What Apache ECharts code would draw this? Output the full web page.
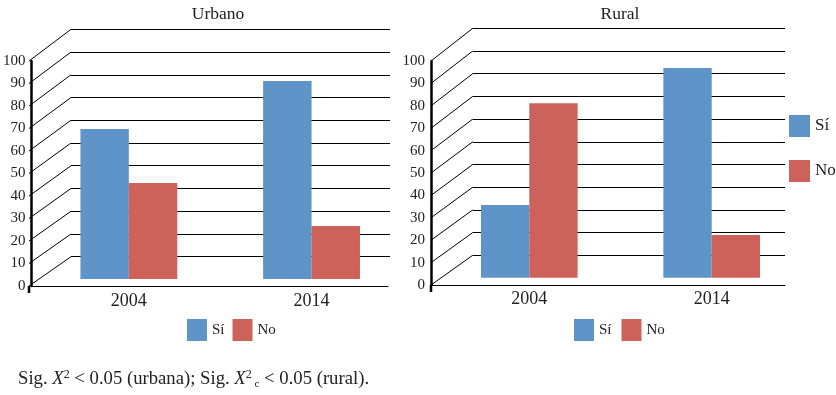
<!DOCTYPE html>
<html>
<head>
<meta charset="utf-8">
<script src="https://cdn.jsdelivr.net/npm/echarts@6/dist/echarts.min.js"></script>
<style>
  html, body { margin: 0; padding: 0; background: #fff; }
  #main { width: 836px; height: 395px; }
</style>
</head>
<body>
<div id="main"></div>
<script>
// datos (%)
var years = ['2004', '2014'];
var urbanoSi = [66.7, 88.0];
var urbanoNo = [42.7, 23.6];
var ruralSi = [32.5, 93.6];
var ruralNo = [77.9, 19.1];
var yTicks = [0, 10, 20, 30, 40, 50, 60, 70, 80, 90, 100];

var FONT = 'Liberation Serif';
var BLUE = '#5F94C9';
var RED = '#CD625A';

var chart = echarts.init(document.getElementById('main'));

// back wall, front axis, bars  (x3 per panel)
var grids = [
  {left: 71, top: 29.3, width: 319, height: 227.4},
  {left: 29, top: 61, width: 359, height: 225},
  {left: 37.5, top: 54, width: 365.4, height: 225},
  {left: 472.7, top: 28.3, width: 312.3, height: 227},
  {left: 431, top: 61, width: 354, height: 224},
  {left: 438.1, top: 53.7, width: 364.8, height: 224}
];

var xAxes = [], yAxes = [];
grids.forEach(function (g, i) {
  var kind = i % 3;
  xAxes.push({
    gridIndex: i,
    type: 'category',
    data: years,
    axisLine: {show: kind === 1, lineStyle: {color: '#000', width: 1}},
    axisTick: {show: false},
    axisLabel: {
      show: kind === 2, margin: 13,
      fontFamily: FONT, fontSize: 18, color: '#222'
    },
    splitLine: {show: false}
  });
  yAxes.push({
    gridIndex: i,
    type: 'value',
    min: 0, max: 100, interval: 10,
    axisLine: {show: kind === 1, lineStyle: {color: '#000', width: 2.5}},
    axisTick: {show: false},
    axisLabel: {
      show: kind === 1, margin: 6,
      fontFamily: FONT, fontSize: 15, color: '#222'
    },
    splitLine: {show: kind === 0, lineStyle: {color: '#000', width: 1}}
  });
});

function bar(name, data, idx, color) {
  return {
    name: name, type: 'bar', data: data,
    xAxisIndex: idx, yAxisIndex: idx,
    barGap: 0, barCategoryGap: '47%',
    itemStyle: {color: color},
    emphasis: {disabled: true}
  };
}

chart.setOption({
  animation: false,
  title: [
    {text: 'Urbano', left: 213, top: 0, textAlign: 'center',
     textStyle: {fontFamily: FONT, fontSize: 17.5, fontWeight: 'normal', color: '#222'}},
    {text: 'Rural', left: 615, top: 0, textAlign: 'center',
     textStyle: {fontFamily: FONT, fontSize: 17.5, fontWeight: 'normal', color: '#222'}}
  ],
  legend: [
    {left: 187, top: 319, padding: 0, icon: 'rect', itemWidth: 20, itemHeight: 22, itemGap: 8,
     data: ['Sí', 'No'], selectedMode: false,
     textStyle: {fontFamily: FONT, fontSize: 15, color: '#222'}},
    {left: 574, top: 319, padding: 0, icon: 'rect', itemWidth: 20, itemHeight: 22, itemGap: 10,
     data: ['Sí', 'No'], selectedMode: false,
     textStyle: {fontFamily: FONT, fontSize: 15, color: '#222'}},
    {left: 789, top: 115, padding: 0, icon: 'rect', orient: 'vertical',
     itemWidth: 21, itemHeight: 22, itemGap: 23,
     data: ['Sí', 'No'], selectedMode: false,
     textStyle: {fontFamily: FONT, fontSize: 17, color: '#222'}}
  ],
  grid: grids,
  xAxis: xAxes,
  yAxis: yAxes,
  series: [
    bar('Sí', urbanoSi, 2, BLUE),
    bar('No', urbanoNo, 2, RED),
    bar('Sí', ruralSi, 5, BLUE),
    bar('No', ruralNo, 5, RED)
  ]
});

// lineas de perspectiva desde el eje frontal hasta la pared del fondo
var elements = [];
[[1, 0], [4, 3]].forEach(function (pair) {
  var front = grids[pair[0]], back = grids[pair[1]];
  yTicks.forEach(function (v) {
    var yf = chart.convertToPixel({yAxisIndex: pair[0]}, v);
    var yb = chart.convertToPixel({yAxisIndex: pair[1]}, v);
    elements.push({
      type: 'line', silent: true,
      shape: {x1: front.left, y1: yf, x2: back.left, y2: yb},
      style: {stroke: '#000', lineWidth: 1}
    });
  });
  // el eje frontal baja un poco por debajo del cero
  var y0 = chart.convertToPixel({yAxisIndex: pair[0]}, 0);
  elements.push({
    type: 'line', silent: true,
    shape: {x1: front.left, y1: y0, x2: front.left, y2: y0 + 7},
    style: {stroke: '#000', lineWidth: 2.5}
  });
});

elements.push({
  type: 'text', left: 18, top: 369,
  style: {
    text: 'Sig. {i|X}{sup|2} < 0.05 (urbana); Sig. {i|X}{sup|2}{sub| c} < 0.05 (rural).',
    fontFamily: FONT, fontSize: 18.7, fill: '#222',
    rich: {
      i: {fontFamily: FONT, fontSize: 18.7, fontStyle: 'italic'},
      sup: {fontFamily: FONT, fontSize: 12, verticalAlign: 'top', padding: [0, 0, 9, 0]},
      sub: {fontFamily: FONT, fontSize: 11, verticalAlign: 'bottom', padding: [8, 0, 0, 0]}
    }
  }
});

chart.setOption({graphic: elements});
</script>
</body>
</html>
